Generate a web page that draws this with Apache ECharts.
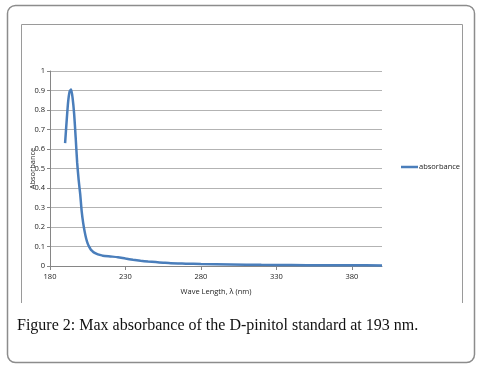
<!DOCTYPE html>
<html><head><meta charset="utf-8">
<script src="https://cdn.jsdelivr.net/npm/echarts@6/dist/echarts.min.js"></script>
<style>html,body{margin:0;padding:0;background:#fff}#c{width:479px;height:368px}</style>
</head><body><div id="c"></div>
<script>
const wavelengths = [190,191,192,193,194,195,196,197,198,199,200,201,202,203,204,205,206,207,208,209,211,213,215,220,225,230,235,240,245,250,255,260,270,280,300,320,340,360,380,400];
const absorbance  = [0.63,0.74,0.84,0.895,0.905,0.86,0.78,0.66,0.53,0.44,0.37,0.28,0.22,0.175,0.14,0.115,0.098,0.085,0.077,0.07,0.062,0.057,0.053,0.049,0.045,0.038,0.032,0.027,0.023,0.02,0.017,0.014,0.012,0.01,0.008,0.006,0.005,0.004,0.004,0.003];
const xTicks = [180,230,280,330,380];
const seriesName = 'absorbance';
const caption = 'Figure 2: Max absorbance of the D-pinitol standard at 193 nm.';

const chart = echarts.init(document.getElementById('c'), null, {renderer:'canvas'});
const font = 'Open Sans';
chart.setOption({
  animation:false,
  backgroundColor:'#fff',
  grid:{left:50,right:97,top:71,bottom:102},
  legend:{
    left:396, top:158, itemWidth:17, itemHeight:2.5, itemGap:2,
    icon:'rect',
    textStyle:{fontFamily:font,fontSize:7.5,color:'#222',padding:[0,0,0,-4]},
    data:[seriesName]
  },
  xAxis:{
    type:'value', min:180, max:400, interval:10,
    name:'Wave Length, λ (nm)', nameLocation:'middle', nameGap:22, nameMoveOverlap:false,
    nameTextStyle:{fontFamily:font,fontSize:7.5,color:'#222'},
    axisLine:{show:true,onZero:false,lineStyle:{color:'#868686',width:1}},
    axisTick:{show:true,length:4,customValues:xTicks,lineStyle:{color:'#868686'}},
    axisLabel:{fontFamily:font,fontSize:7.5,color:'#222',margin:7,customValues:xTicks},
    splitLine:{show:false}
  },
  yAxis:{
    type:'value', min:0, max:1, interval:0.1,
    name:'Absorbance', nameLocation:'middle', nameGap:13, nameRotate:90, nameMoveOverlap:false,
    nameTextStyle:{fontFamily:font,fontSize:7.5,color:'#222'},
    axisLine:{show:true,lineStyle:{color:'#868686',width:1}},
    axisTick:{show:true,length:3,lineStyle:{color:'#868686'}},
    axisLabel:{fontFamily:font,fontSize:7.5,color:'#222',margin:5,
      formatter:v=>String(Math.round(v*10)/10)},
    splitLine:{show:true,lineStyle:{color:'#b3b3b3',width:1}}
  },
  series:[{
    name:seriesName, type:'line', smooth:0.2, showSymbol:false,
    data: wavelengths.map((w,i)=>[w,absorbance[i]]),
    lineStyle:{color:'#4a7ebb',width:2.5},
    itemStyle:{color:'#4a7ebb'}
  }],
  graphic:[
    {type:'rect',shape:{x:7.5,y:5.5,width:467,height:357,r:8},style:{fill:'none',stroke:'#8c8c8c',lineWidth:1.5},z:-1},
    {type:'polyline',shape:{points:[[21.5,303],[21.5,24.5],[462.5,24.5],[462.5,303]]},style:{fill:'none',stroke:'#9a9a9a',lineWidth:1},z:-1},
    {type:'text',left:17,top:318,style:{text:caption,font:'16px "Liberation Serif"',fill:'#111'}}
  ]
});
</script></body></html>
